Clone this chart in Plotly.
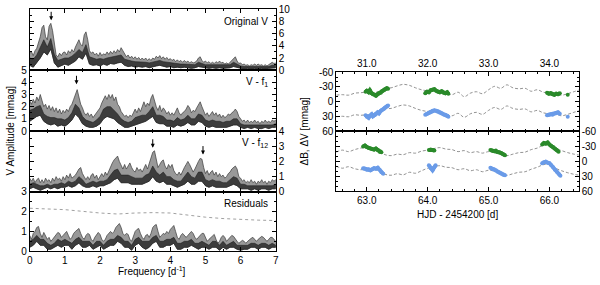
import plotly.graph_objects as go

# ---------------- data: amplitude spectra (mmag) ----------------
f_hi = [round(i * 0.05, 2) for i in range(141)]
f_lo = [round(i * 0.1, 1) for i in range(71)]

orig_hi = [2.8,3.0,2.4,3.2,3.6,4.5,5.5,7.0,7.4,5.5,5.0,7.2,7.7,6.5,4.0,2.5,2.2,2.8,2.4,2.9,
           3.0,2.5,3.2,2.8,3.4,3.0,3.8,4.5,5.0,4.2,4.0,5.8,6.3,5.0,3.2,2.8,3.0,2.5,2.8,2.3,
           2.9,2.4,2.7,2.5,3.0,2.6,3.1,2.7,3.2,2.8,3.4,3.0,3.7,3.2,2.6,2.2,2.5,2.0,2.3,1.9,
           2.2,1.8,2.1,1.7,2.0,1.7,2.0,1.6,1.9,1.6,2.0,1.8,2.3,2.0,2.4,1.9,2.2,1.8,2.1,1.7,
           1.9,1.6,1.8,1.4,1.7,1.4,1.6,1.3,1.6,1.3,1.5,1.2,1.4,1.2,1.3,1.5,2.0,2.2,1.6,1.3,
           1.5,1.2,1.4,1.1,1.3,1.1,1.4,1.2,1.5,1.2,1.3,1.0,1.2,1.0,1.3,1.6,2.0,2.2,1.5,1.1,
           1.2,0.9,1.0,0.8,0.9,0.7,0.9,0.8,1.0,0.8,1.0,0.8,0.9,0.7,0.9,0.7,0.9,1.1,1.3,1.1,1.2]
orig_core = [2.0,1.8,2.5,3.8,5.0,3.8,5.2,2.6,1.6,1.8,2.0,2.0,2.3,2.8,3.4,2.9,4.2,2.2,2.0,1.8,
             1.9,1.8,2.0,2.1,2.2,2.3,2.5,1.8,1.6,1.5,1.4,1.4,1.3,1.3,1.2,1.3,1.5,1.6,1.4,1.3,
             1.2,1.1,1.1,1.0,1.0,1.0,0.9,0.9,1.3,1.1,0.9,0.9,0.9,0.8,0.9,0.8,0.8,0.9,1.3,1.0,
             0.7,0.6,0.6,0.6,0.7,0.6,0.6,0.6,0.6,0.8,0.8]
orig_lo = [0.8,0.5,1.2,2.0,3.0,2.5,3.5,1.2,0.5,0.8,1.0,0.8,1.2,1.5,2.2,1.8,2.8,1.0,0.8,0.9,
           0.7,1.0,0.8,1.1,1.0,1.2,1.3,0.8,0.6,0.7,0.5,0.6,0.5,0.6,0.4,0.6,0.7,0.8,0.6,0.5,
           0.6,0.4,0.5,0.4,0.5,0.4,0.3,0.4,0.6,0.5,0.4,0.3,0.4,0.3,0.4,0.3,0.3,0.4,0.6,0.4,
           0.3,0.2,0.3,0.2,0.3,0.2,0.3,0.2,0.3,0.4,0.4]

vf1_hi = [2.5,2.2,2.6,2.3,2.8,2.5,3.0,2.4,2.0,2.2,1.8,2.1,1.7,2.0,1.6,1.9,1.5,1.8,1.4,1.7,
          1.5,1.8,1.6,2.0,2.2,2.6,3.1,3.4,2.8,2.2,1.9,1.5,1.3,1.5,1.2,1.4,1.1,1.3,1.4,1.6,
          1.9,2.3,2.6,2.9,2.6,3.0,2.7,3.0,2.5,2.8,2.2,2.0,1.6,1.4,1.2,1.3,1.1,1.3,1.2,1.5,
          1.8,1.5,1.9,1.6,2.1,2.4,2.0,2.3,2.1,2.7,3.0,2.4,2.0,1.7,2.1,1.6,1.9,1.7,1.4,1.6,
          1.3,1.5,1.3,1.6,1.9,1.5,1.3,1.5,1.6,1.8,2.1,1.9,1.5,1.7,1.6,1.9,2.2,2.4,2.0,1.6,
          1.3,1.5,1.2,1.4,1.6,1.3,1.5,1.2,1.4,1.1,1.3,1.1,1.2,1.4,1.3,1.5,1.6,1.8,1.6,1.2,
          1.0,0.8,0.9,0.7,0.9,0.7,0.8,0.7,0.9,0.7,0.8,0.6,0.8,0.7,0.9,0.7,0.8,0.7,0.9,0.8,0.9]
vf1_core = [1.7,1.8,2.0,2.1,1.4,1.2,1.1,1.1,1.0,1.0,0.9,1.1,1.5,2.2,1.9,1.2,0.9,0.8,0.7,0.9,
            1.2,1.8,2.0,2.0,1.7,1.4,1.0,0.8,0.7,0.8,1.1,1.2,1.3,1.3,1.6,2.0,1.3,1.3,1.2,0.9,
            0.9,0.8,1.1,0.9,1.0,1.3,1.0,1.0,1.4,1.3,0.9,0.8,0.9,0.8,0.8,0.7,0.8,0.8,1.0,1.0,
            0.6,0.5,0.5,0.5,0.5,0.5,0.5,0.5,0.5,0.5,0.6]
vf1_lo = [0.8,1.0,1.2,1.3,0.8,0.6,0.5,0.6,0.4,0.5,0.4,0.6,0.9,1.4,1.1,0.6,0.4,0.3,0.3,0.4,
          0.6,1.0,1.2,1.1,1.0,0.7,0.5,0.3,0.3,0.4,0.5,0.6,0.7,0.8,1.0,1.2,0.7,0.6,0.6,0.4,
          0.4,0.3,0.5,0.4,0.5,0.7,0.5,0.5,0.8,0.7,0.4,0.3,0.4,0.3,0.3,0.3,0.3,0.4,0.5,0.5,
          0.3,0.2,0.3,0.2,0.3,0.2,0.2,0.3,0.2,0.3,0.3]

vf12_hi = [0.9,0.7,0.9,0.6,0.8,0.9,0.6,0.8,0.6,0.9,0.7,0.8,0.6,0.9,0.7,1.0,0.8,0.9,0.7,1.0,
           0.8,1.1,0.9,1.2,0.9,1.0,1.1,1.3,1.5,1.6,1.2,1.0,0.8,1.0,0.8,1.1,1.2,0.9,1.1,0.8,
           1.0,1.2,1.0,1.3,1.1,1.4,1.7,1.9,2.1,2.2,2.35,2.0,1.7,1.5,1.8,1.5,1.7,1.9,1.6,1.4,
           1.3,1.6,1.4,1.5,1.3,1.6,1.8,1.5,1.9,2.3,2.6,2.7,2.0,1.6,1.8,2.0,2.1,1.7,1.5,1.8,
           1.6,1.8,1.4,1.2,1.1,1.3,1.1,1.4,1.6,1.8,2.0,1.8,1.5,1.3,1.5,1.8,2.0,2.2,2.15,1.6,
           1.2,1.4,1.1,1.3,1.4,1.1,1.3,1.0,1.2,1.0,1.1,0.9,1.0,1.2,1.3,1.5,1.6,1.7,1.5,1.0,
           0.9,0.7,0.8,0.6,0.7,0.6,0.8,0.6,0.7,0.5,0.7,0.6,0.8,0.6,0.7,0.5,0.7,0.6,0.8,0.7,0.8]
vf12_core = [0.5,0.6,0.5,0.4,0.4,0.5,0.4,0.5,0.5,0.6,0.5,0.7,0.6,0.7,1.0,0.8,0.5,0.6,0.7,0.6,
             0.7,0.7,0.8,1.1,1.4,1.5,1.1,1.1,1.1,1.0,0.9,0.9,0.9,1.1,1.2,1.7,1.3,1.1,1.3,1.0,
             1.0,0.8,0.7,0.7,1.0,1.3,1.0,0.9,1.3,1.3,0.8,0.7,0.8,0.7,0.7,0.6,0.6,0.8,1.0,0.9,
             0.5,0.5,0.4,0.4,0.4,0.4,0.4,0.4,0.4,0.4,0.5]
vf12_lo = [0.2,0.3,0.2,0.1,0.2,0.3,0.2,0.3,0.2,0.3,0.3,0.4,0.3,0.4,0.6,0.4,0.3,0.3,0.4,0.3,
           0.4,0.4,0.5,0.6,0.8,0.9,0.6,0.6,0.6,0.5,0.5,0.5,0.5,0.6,0.7,1.0,0.7,0.6,0.7,0.5,
           0.5,0.4,0.3,0.4,0.5,0.7,0.5,0.5,0.7,0.7,0.4,0.3,0.4,0.3,0.3,0.3,0.3,0.4,0.5,0.4,
           0.2,0.2,0.2,0.1,0.2,0.1,0.2,0.2,0.1,0.2,0.2]

res_hi = [0.8,0.6,0.9,1.0,1.2,1.25,0.9,0.7,0.95,0.8,0.6,0.7,0.5,0.6,0.7,0.8,0.95,0.9,0.7,0.8,
          0.9,1.0,0.8,0.6,0.7,0.9,1.0,1.1,1.15,0.9,0.7,0.6,0.8,0.9,0.85,0.6,0.5,0.7,0.8,0.95,
          0.85,0.6,0.5,0.6,0.8,0.9,1.0,0.9,1.0,1.2,1.3,1.4,1.2,0.9,0.8,0.9,0.85,0.6,0.5,0.8,
          1.0,1.1,1.15,0.9,0.7,0.6,0.8,0.85,0.7,0.9,1.2,1.3,1.35,1.0,0.7,0.8,0.9,0.85,1.0,0.9,
          1.1,1.2,1.3,1.0,0.7,0.6,0.8,0.9,0.8,0.7,0.8,0.9,1.0,0.9,0.7,0.6,0.7,0.8,0.9,0.9,
          0.7,0.5,0.6,0.7,0.8,0.85,0.6,0.4,0.5,0.7,0.8,0.7,0.5,0.6,0.7,0.8,0.75,0.6,0.5,0.4,
          0.5,0.55,0.5,0.4,0.5,0.6,0.65,0.7,0.6,0.5,0.6,0.7,0.75,0.7,0.6,0.5,0.6,0.7,0.7,0.6,0.5]
res_core = [0.5,0.6,0.8,0.6,0.6,0.4,0.3,0.4,0.6,0.5,0.6,0.5,0.4,0.6,0.7,0.5,0.5,0.5,0.3,0.5,
            0.5,0.3,0.5,0.6,0.6,0.8,0.7,0.5,0.5,0.3,0.6,0.7,0.5,0.5,0.5,0.7,0.8,0.5,0.5,0.6,
            0.6,0.7,0.4,0.4,0.5,0.5,0.6,0.4,0.4,0.5,0.4,0.3,0.5,0.5,0.3,0.5,0.3,0.4,0.5,0.3,
            0.3,0.3,0.3,0.4,0.4,0.3,0.4,0.4,0.3,0.4,0.3]
res_lo = [0.2,0.3,0.5,0.3,0.3,0.1,0.1,0.2,0.3,0.2,0.3,0.3,0.1,0.3,0.4,0.2,0.2,0.3,0.1,0.2,
          0.3,0.1,0.2,0.3,0.3,0.5,0.4,0.2,0.2,0.05,0.3,0.4,0.2,0.1,0.2,0.4,0.5,0.2,0.2,0.3,
          0.3,0.4,0.1,0.1,0.2,0.2,0.3,0.2,0.1,0.2,0.2,0.1,0.2,0.2,0.05,0.2,0.1,0.2,0.2,0.1,
          0.05,0.1,0.1,0.2,0.2,0.1,0.2,0.2,0.1,0.2,0.2]

sig_f = [0, 1, 2, 2.5, 3, 3.5, 4, 4.5, 5, 5.5, 6, 6.5, 7]
sig_v = [2.17, 2.1, 1.93, 1.88, 1.93, 1.95, 1.93, 1.82, 1.72, 1.65, 1.6, 1.57, 1.55]

# ---------------- data: light curves (mmag) ----------------
fit_top_t = [round(30.5 + i * 0.1, 1) for i in range(41)]
fit_top_B = [-13,-14,-13,-17,-18,-19,-17,-21,-27,-28,-32,-35,-33,-28,-24,-22,-24,-20,-17,-14,
             -19,-10,-17,-20,-16,-24,-31,-27,-34,-28,-26,-27,-21,-24,-19,-17,-16,-13,-16,-20,-24]
fit_top_V = [31,30,31,27,28,27,29,24,15,14,10,7,9,14,18,20,19,22,26,29,
             24,32,25,22,26,18,12,16,9,14,16,15,21,18,23,25,26,29,26,22,18]
fit_bot_t = [round(62.5 + i * 0.1, 1) for i in range(41)]
fit_bot_B = [-18,-22,-19,-23,-26,-27,-24,-20,-13,-11,-14,-13,-17,-16,-20,-22,-25,-27,-24,-23,
             -19,-21,-17,-19,-16,-19,-17,-14,-11,-14,-17,-18,-23,-26,-32,-32,-25,-21,-17,-14,-12]
fit_bot_V = [10,14,11,15,17,16,15,19,26,28,25,27,22,24,19,14,11,9,12,13,
             17,15,19,17,21,18,20,25,28,25,22,21,16,12,7,6,14,19,23,26,28]

obs_top_t = [30.98,31.00,31.03,31.05,31.08,31.10,31.13,31.15,31.18,31.20,31.23,31.25,31.28,31.30,31.33,31.35, None,
             31.96,31.99,32.02,32.05,32.08,32.11,32.14,32.17,32.20,32.23,32.26,32.29,32.32,32.34, None,
             33.96,33.99,34.02,34.05,34.08,34.11,34.14,34.17, None, 34.30]
obs_top_B = [-20,-22,-19,-23,-17,-15,-14,-12,-15,-17,-18,-21,-23,-25,-27,-26, None,
             -17,-20,-19,-23,-24,-25,-22,-20,-19,-21,-18,-17,-19,-16, None,
             -18,-16,-17,-15,-14,-16,-15,-17, None, -14]
obs_top_V = [28,31,33,29,26,30,28,25,22,24,19,17,15,12,10,8, None,
             27,25,23,21,19,18,19,20,22,24,26,27,29,31, None,
             28,27,26,27,25,24,22,25, None, 31]

obs_bot_tB = [62.94,62.97,63.00,63.03,63.06,63.09,63.12,63.15,63.18,63.21,63.24, None,
              64.02,64.05,64.08,64.11, None,
              65.03,65.06,65.09,65.12,65.15,65.18,65.21,65.24,65.27, None,
              65.88,65.91,65.94,65.97,66.00,66.03,66.06,66.09,66.12,66.15]
obs_bot_B = [-29,-31,-28,-26,-25,-24,-23,-25,-22,-19,-18, None,
             -22,-23,-22,-21, None,
             -22,-21,-20,-21,-19,-18,-16,-14,-12, None,
             -33,-36,-35,-37,-33,-30,-28,-25,-22,-19]
obs_bot_tV = [62.94,62.97,63.00,63.03,63.06,63.09,63.12,63.15,63.18,63.21,63.24,63.27, None,
              64.02,64.05,64.08,64.11,64.13, None,
              65.03,65.06,65.09,65.12,65.15,65.18,65.21,65.24,65.27, None,
              65.88,65.91,65.94,65.97,66.00,66.03,66.06,66.09,66.12,66.15,66.18]
obs_bot_V = [14,15,17,16,18,16,14,15,13,17,22,25, None,
             8,14,18,12,8, None,
             13,15,16,18,21,23,25,27,28, None,
             4,2,1,3,4,8,12,17,21,25,29]

panel_labels = ["Original V", "V - f<sub>1</sub>", "V - f<sub>12</sub>", "Residuals"]

# ---------------- figure ----------------
FONT = "Liberation Sans, Arial, sans-serif"
GREEN = "#2a8a2a"
BLUE = "#6a9be8"

fig = go.Figure()

spectra = [(orig_hi, orig_core, orig_lo), (vf1_hi, vf1_core, vf1_lo),
           (vf12_hi, vf12_core, vf12_lo), (res_hi, res_core, res_lo)]
for k, (hi, core, lo) in enumerate(spectra):
    ax = "" if k == 0 else str(k + 1)
    fig.add_trace(go.Scatter(
        x=f_hi + f_lo[::-1], y=hi + lo[::-1], mode="lines", fill="toself",
        fillcolor="#999999", line=dict(color="#3a3a3a", width=0.7),
        xaxis="x" + ax, yaxis="y" + ax, showlegend=False, hoverinfo="skip"))
    fig.add_trace(go.Scatter(
        x=f_lo + f_lo[::-1], y=core + lo[::-1], mode="lines", fill="toself",
        fillcolor="#3c3c3c", line=dict(color="#222222", width=0.6),
        xaxis="x" + ax, yaxis="y" + ax, showlegend=False, hoverinfo="skip"))

fig.add_trace(go.Scatter(x=sig_f, y=sig_v, mode="lines", line=dict(color="#888888", width=0.8, dash="dot"),
                         xaxis="x4", yaxis="y4", showlegend=False))

for (t, v, ax) in [(fit_top_t, fit_top_B, "5"), (fit_top_t, fit_top_V, "5"),
                   (fit_bot_t, fit_bot_B, "6"), (fit_bot_t, fit_bot_V, "6")]:
    fig.add_trace(go.Scatter(x=t, y=v, mode="lines",
                             line=dict(color="#777777", width=0.8, dash="3px,2px", shape="spline"),
                             xaxis="x" + ax, yaxis="y" + ax, showlegend=False))

for (t, v, col, ax) in [(obs_top_t, obs_top_B, GREEN, "5"), (obs_top_t, obs_top_V, BLUE, "5"),
                        (obs_bot_tB, obs_bot_B, GREEN, "6"), (obs_bot_tV, obs_bot_V, BLUE, "6")]:
    fig.add_trace(go.Scatter(x=t, y=v, mode="lines+markers", connectgaps=False,
                             line=dict(color=col, width=4), marker=dict(color=col, size=4),
                             xaxis="x" + ax, yaxis="y" + ax, showlegend=False))

TICKFONT = dict(family=FONT, size=10, color="black")
common_ax = dict(showline=True, linecolor="black", linewidth=1, mirror="ticks", ticks="inside",
                 ticklen=4, tickcolor="black", showgrid=False, zeroline=False, tickfont=TICKFONT)

LX = [27 / 600, 275.5 / 600]
RX = [336.7 / 600, 581.5 / 600]
def py(p):
    return 1 - p / 285

left_dom = [[py(67), py(3.5)], [py(130.5), py(67)], [py(194), py(130.5)], [py(256), py(194)]]
yranges = [[0, 10], [0, 5], [0, 4], [0, 3]]
ydt = [2, 1, 1, 1]
ymin = [1, 0.5, 0.5, 0.5]
ysides = ["right", "left", "right", "left"]

layout = dict(width=600, height=285, margin=dict(l=0, r=0, t=0, b=0),
              paper_bgcolor="white", plot_bgcolor="white", font=dict(family=FONT, size=10, color="black"))

for k in range(4):
    ax = "" if k == 0 else str(k + 1)
    layout["xaxis" + ax] = dict(common_ax, domain=LX, range=[0, 7], dtick=1, anchor="y" + ax,
                                showticklabels=(k == 3), minor=dict(ticks="inside", ticklen=2, dtick=0.5, tickcolor="black"))
    layout["yaxis" + ax] = dict(common_ax, domain=left_dom[k], range=yranges[k], dtick=ydt[k], anchor="x" + ax,
                                side=ysides[k],
                                minor=dict(ticks="inside", ticklen=2, dtick=ymin[k], tickcolor="black"))

ytv = [-60, -30, 0, 30, 60]
ytt = ["-60", "-30", "0", "30", "60"]
layout["xaxis5"] = dict(common_ax, domain=RX, range=[30.5, 34.48], dtick=1, tick0=31, tickformat=".1f",
                        side="top", anchor="y5", minor=dict(ticks="inside", ticklen=2, dtick=0.2, tickcolor="black"))
layout["yaxis5"] = dict(common_ax, domain=[py(130.5), py(69)], range=[60, -60], tickvals=ytv, ticktext=ytt,
                        side="left", anchor="x5", minor=dict(ticks="inside", ticklen=2, dtick=10, tickcolor="black"))
layout["xaxis6"] = dict(common_ax, domain=RX, range=[62.5, 66.48], dtick=1, tick0=63, tickformat=".1f",
                        side="bottom", anchor="y6", minor=dict(ticks="inside", ticklen=2, dtick=0.2, tickcolor="black"))
layout["yaxis6"] = dict(common_ax, domain=[py(193.5), py(130.5)], range=[60, -60], tickvals=ytv, ticktext=ytt,
                        side="right", anchor="x6", minor=dict(ticks="inside", ticklen=2, dtick=10, tickcolor="black"))
fig.update_layout(**layout)

ann = []
for k in range(4):
    ax = "" if k == 0 else str(k + 1)
    ann.append(dict(text=panel_labels[k], xref="x" + ax + " domain", yref="y" + ax + " domain",
                    x=0.975, y=0.8, xanchor="right", yanchor="middle", showarrow=False,
                    font=dict(family=FONT, size=10)))

arrows = [(0.61, 8.2, ""), (1.33, 3.84, "2"), (3.50, 2.9, "3"), (4.93, 2.45, "3")]
for (fx, fy, ax) in arrows:
    ann.append(dict(x=fx, y=fy, xref="x" + ax, yref="y" + ax, text="", showarrow=True,
                    ax=0, ay=-10, arrowhead=2, arrowsize=0.8, arrowwidth=1, arrowcolor="black"))

ann += [
    dict(text="V Amplitude [mmag]", x=8 / 600, y=py(130), xref="paper", yref="paper", textangle=-90,
         xanchor="center", yanchor="middle", showarrow=False, font=dict(family=FONT, size=10)),
    dict(text="Frequency [d<sup>-1</sup>]", x=151 / 600, y=py(277), xref="paper", yref="paper",
         xanchor="center", yanchor="middle", showarrow=False, font=dict(family=FONT, size=10)),
    dict(text="ΔB, ΔV [mmag]", x=305 / 600, y=py(130), xref="paper", yref="paper", textangle=-90,
         xanchor="center", yanchor="middle", showarrow=False, font=dict(family=FONT, size=10)),
    dict(text="HJD - 2454200 [d]", x=459 / 600, y=py(218), xref="paper", yref="paper",
         xanchor="center", yanchor="middle", showarrow=False, font=dict(family=FONT, size=10)),
]
fig.update_layout(annotations=ann)

fig.write_html("out.html", config={"displayModeBar": False},
               post_script="document.body.style.margin='0';document.body.style.overflow='hidden';")
